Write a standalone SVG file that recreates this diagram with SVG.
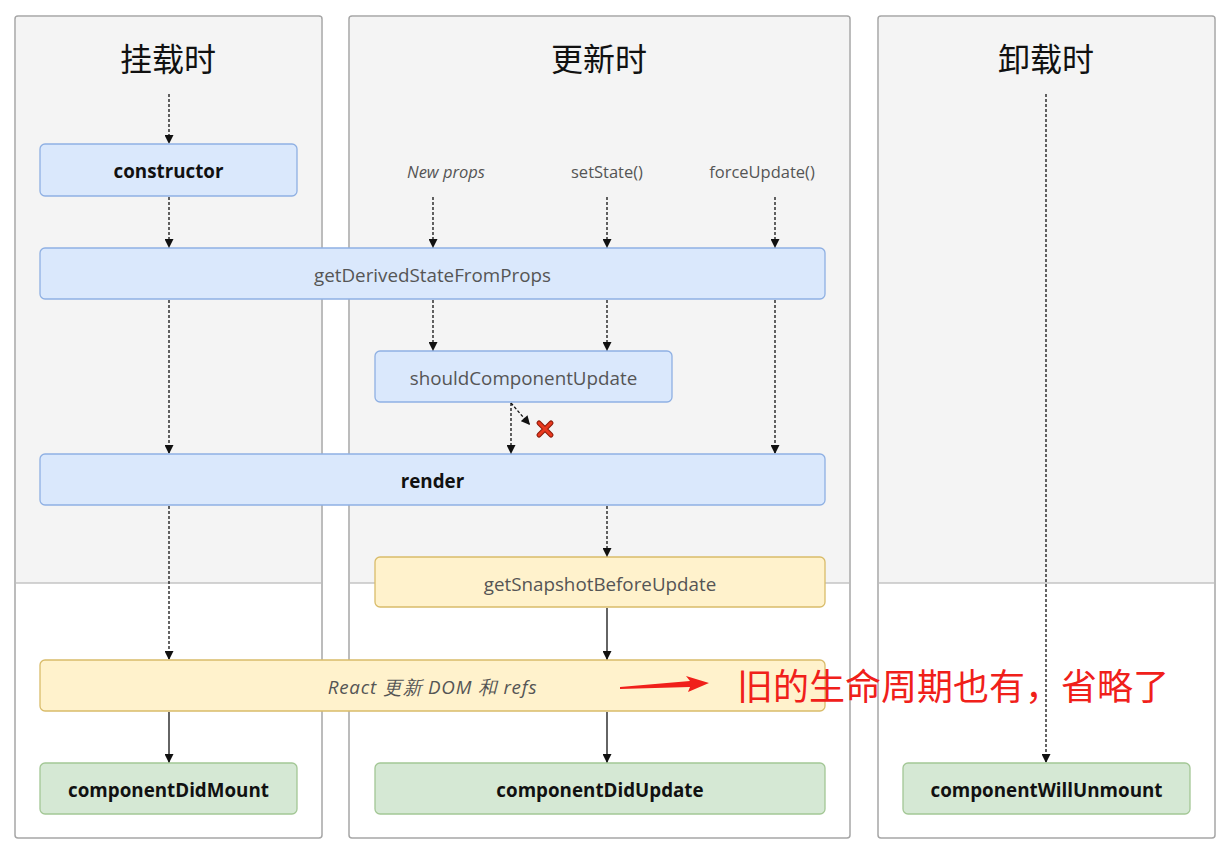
<svg xmlns="http://www.w3.org/2000/svg" width="1228" height="851" viewBox="0 0 1228 851">
<style>
.panel{fill:#ffffff;stroke:#a6a6a6;stroke-width:1.5}
.top{fill:#f4f4f4}
.div{stroke:#c4c4c4;stroke-width:1.5}
.title{font-family:"Noto Sans CJK SC","Noto Sans",sans-serif;font-size:32px;fill:#111;text-anchor:middle}
.blue{fill:#dae8fc;stroke:#8fb0e3;stroke-width:1.3}
.yellow{fill:#fff2cc;stroke:#d9bc6a;stroke-width:1.3}
.green{fill:#d5e8d4;stroke:#a3c795;stroke-width:1.3}
.t{font-family:"Open Sans","Noto Sans",sans-serif;font-size:18.8px;text-anchor:middle}
.b{font-weight:bold;fill:#111}
.n{fill:#555}
.i{font-style:italic;fill:#555}
.lbl{font-family:"Open Sans","Noto Sans",sans-serif;font-size:16.5px;fill:#555;text-anchor:middle}
.dash{stroke:#111;stroke-width:1.3;stroke-dasharray:3,2;fill:none;marker-end:url(#ah)}
.solid{stroke:#111;stroke-width:1.3;fill:none;marker-end:url(#ah)}
</style>
<defs>
<marker id="ah" viewBox="0 0 10 10" refX="10" refY="5" markerWidth="10" markerHeight="9" markerUnits="userSpaceOnUse" orient="auto">
<path d="M0,0 L10,5 L0,10 z" fill="#111"/>
</marker>
</defs>
<rect width="1228" height="851" fill="#ffffff"/>

<g id="panel-mount">
<rect class="panel" x="15" y="16" width="307" height="822" rx="3"/>
<path class="top" d="M16,19 a2,2 0 0 1 2,-2 h301 a2,2 0 0 1 2,2 v564 h-305 z"/>
<line class="div" x1="16" y1="583" x2="321" y2="583"/>
<text class="title" x="168" y="71">挂载时</text>
</g>
<g id="panel-update">
<rect class="panel" x="349" y="16" width="501" height="822" rx="3"/>
<path class="top" d="M350,19 a2,2 0 0 1 2,-2 h495 a2,2 0 0 1 2,2 v564 h-499 z"/>
<line class="div" x1="350" y1="583" x2="849" y2="583"/>
<text class="title" x="599" y="71">更新时</text>
</g>
<g id="panel-unmount">
<rect class="panel" x="878" y="16" width="337" height="822" rx="3"/>
<path class="top" d="M879,19 a2,2 0 0 1 2,-2 h331 a2,2 0 0 1 2,2 v564 h-335 z"/>
<line class="div" x1="879" y1="583" x2="1214" y2="583"/>
<text class="title" x="1046" y="71">卸载时</text>
</g>

<g id="labels">
<text class="lbl" x="446" y="178" font-style="italic">New props</text>
<text class="lbl" x="607" y="178">setState()</text>
<text class="lbl" x="762" y="178">forceUpdate()</text>
</g>

<g id="connectors">
<line class="dash" x1="169" y1="94" x2="169" y2="144"/>
<line class="dash" x1="169" y1="197" x2="169" y2="248"/>
<line class="dash" x1="169" y1="300" x2="169" y2="454"/>
<line class="dash" x1="169" y1="506" x2="169" y2="660"/>
<line class="solid" x1="169" y1="712" x2="169" y2="763"/>
<line class="dash" x1="433" y1="197" x2="433" y2="248"/>
<line class="dash" x1="607" y1="197" x2="607" y2="248"/>
<line class="dash" x1="775" y1="197" x2="775" y2="248"/>
<line class="dash" x1="433" y1="300" x2="433" y2="351"/>
<line class="dash" x1="607" y1="300" x2="607" y2="351"/>
<line class="dash" x1="775" y1="300" x2="775" y2="454"/>
<line class="dash" x1="511" y1="403" x2="511" y2="454"/>
<line class="dash" x1="511" y1="403" x2="530" y2="425"/>
<line class="dash" x1="607" y1="506" x2="607" y2="557"/>
<line class="solid" x1="607" y1="608" x2="607" y2="660"/>
<line class="solid" x1="607" y1="712" x2="607" y2="763"/>
<line class="dash" x1="1046" y1="94" x2="1046" y2="763"/>
</g>

<g id="cancel-mark">
<path d="M539,423 L551,435 M551,423 L539,435" stroke="#8a1a0a" stroke-width="5" stroke-linecap="round"/>
<path d="M539,423 L551,435 M551,423 L539,435" stroke="#e8391f" stroke-width="3" stroke-linecap="round"/>
</g>

<g id="node-constructor">
<rect class="blue" x="40" y="144" width="257" height="52" rx="5"/>
<text class="t b" x="168.5" y="178">constructor</text>
</g>
<g id="node-gdsfp">
<rect class="blue" x="40" y="248" width="785" height="51" rx="5"/>
<text class="t n" x="432.5" y="282">getDerivedStateFromProps</text>
</g>
<g id="node-scu">
<rect class="blue" x="375" y="351" width="297" height="51" rx="5"/>
<text class="t n" x="523.5" y="385">shouldComponentUpdate</text>
</g>
<g id="node-render">
<rect class="blue" x="40" y="454" width="785" height="51" rx="5"/>
<text class="t b" x="432.5" y="488">render</text>
</g>
<g id="node-gsbu">
<rect class="yellow" x="375" y="557" width="450" height="50" rx="5"/>
<text class="t n" x="600" y="591">getSnapshotBeforeUpdate</text>
</g>
<g id="node-react-update">
<rect class="yellow" x="40" y="660" width="785" height="51" rx="5"/>
<text class="t i" x="432.5" y="694" font-family="'Open Sans','Noto Sans CJK SC',sans-serif" font-size="20" letter-spacing="0.8">React 更新 DOM 和 refs</text>
</g>
<g id="node-cdm">
<rect class="green" x="40" y="763" width="257" height="51" rx="5"/>
<text class="t b" x="168.5" y="797">componentDidMount</text>
</g>
<g id="node-cdu">
<rect class="green" x="375" y="763" width="450" height="51" rx="5"/>
<text class="t b" x="600" y="797">componentDidUpdate</text>
</g>
<g id="node-cwu">
<rect class="green" x="903" y="763" width="287" height="51" rx="5"/>
<text class="t b" x="1046.5" y="797">componentWillUnmount</text>
</g>

<g id="annotation">
<path d="M620,687 L690,681 L686,676 L709,683 L688,692 L690,687 L620,689 z" fill="#f0201a"/>
<text x="737" y="700" font-family="'Noto Sans CJK SC',sans-serif" font-size="36" fill="#f0201a">旧的生命周期也有，省略了</text>
</g>
</svg>
